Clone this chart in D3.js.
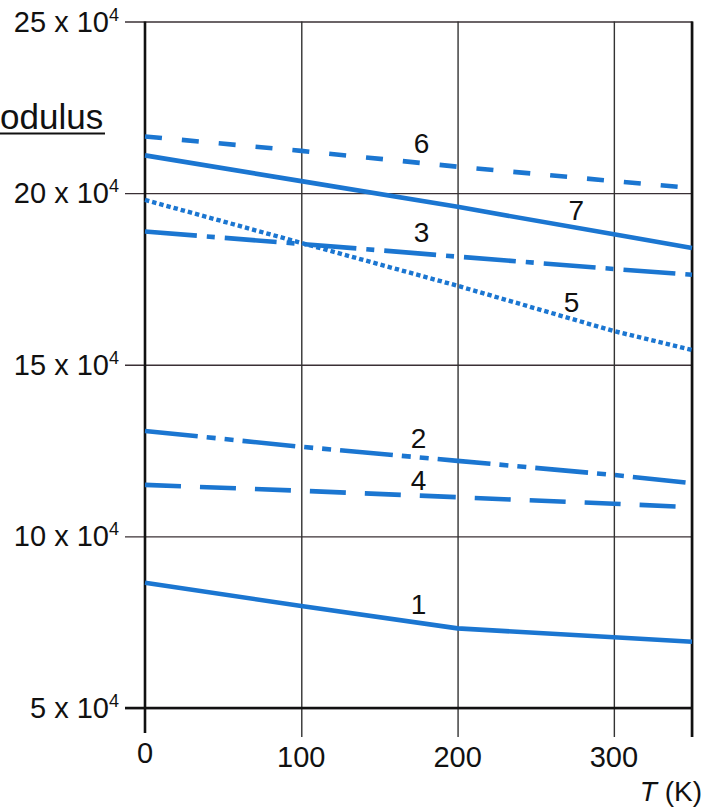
<!DOCTYPE html>
<html>
<head>
<meta charset="utf-8">
<script src="https://cdn.jsdelivr.net/npm/d3@7/dist/d3.min.js"></script>
<style>
  html, body { margin: 0; padding: 0; background: #fff; }
  svg { display: block; font-family: "Liberation Sans", Arial, Helvetica, sans-serif; }
</style>
</head>
<body>
<svg id="chart" width="703" height="811"></svg>
<script>
// ---- data (modulus in units of 10^4, temperature in K) ----
const tempK   = [0, 100, 200, 300, 350];
const series1 = [8.65, 7.97, 7.32, 7.06, 6.93];
const series2 = [13.07, 12.61, 12.20, 11.79, 11.55];
const series3 = [18.88, 18.52, 18.15, 17.79, 17.62];
const series4 = [11.50, 11.33, 11.14, 10.95, 10.85];
const series5 = [19.80, 18.55, 17.30, 15.98, 15.43];
const series6 = [21.65, 21.23, 20.77, 20.35, 20.15];
const series7 = [21.10, 20.35, 19.60, 18.80, 18.40];
const seriesNames = ["1", "2", "3", "4", "5", "6", "7"];
const labelT = [175, 175, 177, 175, 273, 177, 276];
const labelE = [7.74, 12.58, 18.59, 11.35, 16.55, 21.17, 19.22];
const yTicks = [5, 10, 15, 20, 25];
const yTickLabels = ["5", "10", "15", "20", "25"];
const xTicks = [0, 100, 200, 300];
const xTickLabels = ["0", "100", "200", "300"];
const titleText = "odulus";   // visible (cropped) part of the original title
const xTitleItalic = "T";
const xTitleRest = " (K)";

// ---- styles ----
const blue = "#1b76d1";
const dashes = {
  "1": null,
  "2": "53,9,9,9,9,9",
  "3": "52,10,8,10",
  "4": "36,19",
  "5": "4.4,3",
  "6": "17,20",
  "7": null
};

const svg = d3.select("#chart");
const x = d3.scaleLinear().domain([0, 350]).range([145, 692]);
const y = d3.scaleLinear().domain([5, 25]).range([708, 21.5]);

// horizontal grid + left ticks
const hGrid = svg.append("g")
  .attr("transform", `translate(${x(350)},0)`)
  .call(d3.axisLeft(y).tickValues(yTicks).tickSize(x(350) - 125).tickFormat(""));
hGrid.select(".domain").remove();
hGrid.selectAll(".tick line").attr("stroke", "#3a3035").attr("stroke-width", 1.4);

// vertical grid extending below the plot
const vGrid = svg.append("g")
  .attr("transform", `translate(0,${y(25)})`)
  .call(d3.axisBottom(x).tickValues([100, 200, 300, 350]).tickSize(737 - y(25)).tickFormat(""));
vGrid.select(".domain").remove();
vGrid.selectAll(".tick line").attr("stroke", "#333").attr("stroke-width", 1.4);

// thick frame lines
svg.append("line").attr("x1", x(0)).attr("x2", x(0)).attr("y1", y(25)).attr("y2", 733)
  .attr("stroke", "#111").attr("stroke-width", 2.6);
svg.append("line").attr("x1", x(350)).attr("x2", x(350)).attr("y1", y(25)).attr("y2", 737)
  .attr("stroke", "#111").attr("stroke-width", 2.6);
svg.append("line").attr("x1", 125).attr("x2", x(350)).attr("y1", y(5)).attr("y2", y(5))
  .attr("stroke", "#111").attr("stroke-width", 2.4);

// y tick labels "N x 10^4"
const yl = svg.append("g").selectAll("text").data(yTicks).join("text")
  .attr("x", 119).attr("y", d => y(d) + 10)
  .attr("text-anchor", "end").attr("font-size", 29).attr("fill", "#111");
yl.append("tspan").text((d, i) => yTickLabels[i] + " x 10");
yl.append("tspan").attr("font-size", 18).attr("dy", -11).text("4");

// x tick labels
svg.append("g").selectAll("text").data(xTicks).join("text")
  .attr("x", d => x(d)).attr("y", d => d === 0 ? 763 : 767)
  .attr("text-anchor", "middle").attr("font-size", 29).attr("fill", "#111")
  .text((d, i) => xTickLabels[i]);

// x axis title
const xt = svg.append("text").attr("x", 702).attr("y", 801)
  .attr("text-anchor", "end").attr("font-size", 28).attr("fill", "#111");
xt.append("tspan").attr("font-style", "italic").text(xTitleItalic);
xt.append("tspan").text(xTitleRest);

// cropped title
svg.append("text").attr("x", 0).attr("y", 129).attr("text-anchor", "start")
  .attr("font-size", 35).attr("fill", "#111").text(titleText);
svg.append("line").attr("x1", 0).attr("x2", 105).attr("y1", 133.5).attr("y2", 133.5)
  .attr("stroke", "#111").attr("stroke-width", 2);

// data lines
const allSeries = [series1, series2, series3, series4, series5, series6, series7];
const line = d3.line().x((d, i) => x(tempK[i])).y(d => y(d));
svg.append("g").selectAll("path").data(allSeries).join("path")
  .attr("d", d => line(d))
  .attr("fill", "none")
  .attr("stroke", blue)
  .attr("stroke-width", (d, i) => seriesNames[i] === "5" ? 4.4 : 4.6)
  .attr("stroke-dasharray", (d, i) => dashes[seriesNames[i]]);

// series labels
svg.append("g").selectAll("text").data(seriesNames).join("text")
  .attr("x", (d, i) => x(labelT[i])).attr("y", (d, i) => y(labelE[i]))
  .attr("text-anchor", "middle").attr("font-size", 28).attr("fill", "#111")
  .text(d => d);
</script>
</body>
</html>
